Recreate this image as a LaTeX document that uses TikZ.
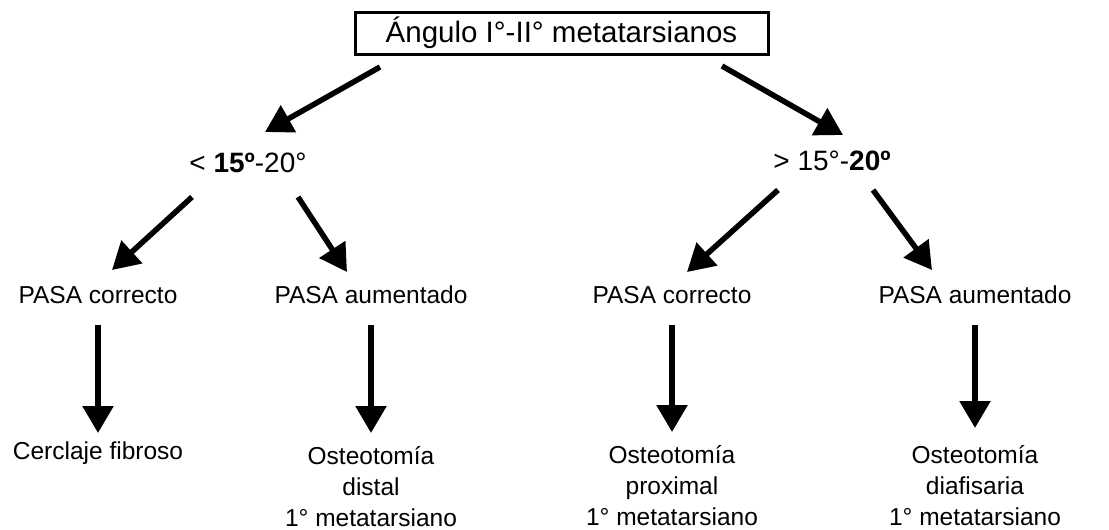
\documentclass[tikz,border=0pt]{standalone}
\usepackage{fontspec}
\setmainfont{Liberation Sans}
\usetikzlibrary{arrows.meta}

\begin{document}
\begin{tikzpicture}[x=1pt, y=-1pt,
  every node/.style={inner sep=0pt},
  leaf/.style={font=\fontsize{24.5}{31}\selectfont, align=center},
  angtext/.style={font=\fontsize{28}{32}\selectfont},
  arr/.style={line width=5.5pt, -{Triangle[length=27pt,width=30pt]}}]
  \useasboundingbox (0,0) rectangle (1109,530);

  % root
  \node[draw, line width=3pt, minimum width=413pt, minimum height=42pt,
        font=\fontsize{29.5}{32}\selectfont] (top) at (561.5,33) {Ángulo I°-II° metatarsianos};

  % angle ranges
  \node[angtext] (lt) at (248,163) {< \textbf{15º}-20°};
  \node[angtext] (rt) at (832,161) {> 15°-\textbf{20º}};

  % PASA
  \node[leaf] (l1) at (98,295)  {PASA correcto};
  \node[leaf] (l2) at (371,295) {PASA aumentado};
  \node[leaf] (r1) at (672,295) {PASA correcto};
  \node[leaf] (r2) at (975,295) {PASA aumentado};

  % treatments
  \node[leaf] (b1) at (98,453)  {Cerclaje fibroso};
  \node[leaf] (b2) at (371,487) {Osteotomía\\distal\\1° metatarsiano};
  \node[leaf] (b3) at (672,486) {Osteotomía\\proximal\\1° metatarsiano};
  \node[leaf] (b4) at (975,486) {Osteotomía\\diafisaria\\1° metatarsiano};

  \draw[arr] ([xshift=-181.5pt,yshift=-34pt]top.center) -- ([xshift=17pt,yshift=31pt]lt.center);
  \draw[arr] ([xshift=160.5pt,yshift=-33pt]top.center) -- ([xshift=11pt,yshift=26pt]rt.center);

  \draw[arr] ([xshift=-56pt,yshift=-34pt]lt.center) -- ([xshift=14pt,yshift=25pt]l1.center);
  \draw[arr] ([xshift=50pt,yshift=-34pt]lt.center) -- ([xshift=-24pt,yshift=23pt]l2.center);
  \draw[arr] ([xshift=-54pt,yshift=-29pt]rt.center) -- ([xshift=15pt,yshift=23pt]r1.center);
  \draw[arr] ([xshift=41pt,yshift=-29pt]rt.center) -- ([xshift=-43pt,yshift=25pt]r2.center);

  \foreach \a/\b/\d in {l1/b1/20, l2/b2/54, r1/b3/54, r2/b4/58}
    \draw[arr] ([yshift=-30pt]\a.center) -- ([yshift=\d pt]\b.center);
\end{tikzpicture}
\end{document}
